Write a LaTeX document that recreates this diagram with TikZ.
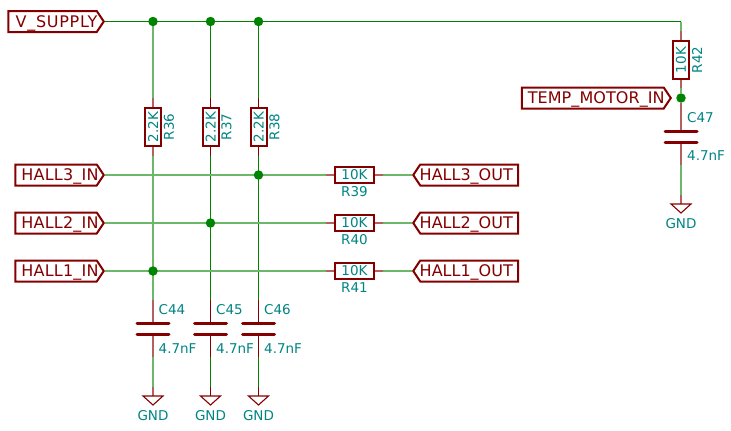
\documentclass[tikz,border=0pt]{standalone}
\usepackage{fontspec}
\setmainfont{DejaVu Sans}
\usetikzlibrary{shapes.symbols,backgrounds}
\definecolor{kred}{HTML}{840000}
\definecolor{kgreen}{HTML}{008400}
\definecolor{kteal}{HTML}{008484}
\newcommand{\lsp}[1]{\addfontfeature{LetterSpace=#1}}
\tikzset{
  x=1pt,y=-1pt,
  wire/.style={draw=kgreen,line width=1.05pt},
  lead/.style={draw=kred,line width=1.05pt},
  wirep/.style={draw=kgreen!58!white,line width=1.05pt},
  leadp/.style={draw=kred!62!white,line width=1.05pt},
  plate/.style={draw=kred,line width=3pt,line cap=round},
  gndsym/.style={draw=kred,line width=1.1pt,line join=miter},
  dotj/.style={circle,fill=kgreen,inner sep=0pt,minimum size=9.5pt},
  resbox/.style={draw=kred,line width=2pt,rectangle,inner sep=0pt,fill=white},
  vres/.style={resbox,minimum width=16pt,minimum height=38pt},
  hres/.style={resbox,minimum width=39pt,minimum height=16pt},
  sig/.style={draw=kred,line width=2pt,inner sep=0pt,signal,signal pointer angle=112,minimum height=21pt,text=kred,text height=11.7pt,text depth=0pt,font=\fontsize{16}{16}\selectfont},
  val/.style={text=kteal,font=\fontsize{13.5}{13.5}\selectfont,inner sep=0pt},
}
\begin{document}
\begin{tikzpicture}
\useasboundingbox (0,0) rectangle (731,431);
% junctions
\node[dotj] (j1) at (153,21.5) {};
\node[dotj] (j2) at (210.5,21.5) {};
\node[dotj] (j3) at (258.5,21.5) {};
\node[dotj] (jt) at (681,98) {};
\node[dotj] (h3) at (258.5,175) {};
\node[dotj] (h2) at (210.5,223) {};
\node[dotj] (h1) at (153,271) {};
% power rail
\node[sig,signal to=east,minimum width=95.5pt,anchor=east] (vs) at (105,21.5) {\makebox[0pt]{\hspace*{8pt}\lsp{4.5}V\_SUPPLY}};
\coordinate (rtop) at (681,21.5);
\coordinate (R42up) at (681,31);
\begin{scope}[on background layer]
  \draw[wire] (vs.east) -- (rtop);
  \draw[wirep] (rtop) -- (R42up);
\end{scope}
% vertical columns
\foreach \x/\rn/\cn/\jn/\ws/\ls in {153/R36/C44/j1/wirep/leadp,210.5/R37/C45/j2/wire/lead,258.5/R38/C46/j3/wire/lead}{
  \node[vres] (\rn) at (\x,127) {};
  \node[val,rotate=90] (\rn v) at (\rn) {2.2K};
  \node[val,rotate=90] (\rn t) at (\x+16,127) {\rn};
  \coordinate (\rn a) at (\x,98);
  \coordinate (\rn b) at (\x,156);
  \coordinate (\cn a) at (\x,300);
  \coordinate (\cn p) at (\x,323);
  \coordinate (\cn q) at (\x,334);
  \coordinate (\cn b) at (\x,357);
  \coordinate (\cn c) at (\x,387);
  \coordinate (\cn g) at (\x,396);
  \coordinate (\cn l) at (\x-16,323);
  \coordinate (\cn r) at (\x+16,323);
  \coordinate (\cn L) at (\x-16,334);
  \coordinate (\cn R) at (\x+16,334);
  \begin{scope}[on background layer]
    \draw[\ws] (\jn) -- (\rn a);
    \draw[\ls] (\rn a) -- (\rn.north);
    \draw[\ls] (\rn.south) -- (\rn b);
    \draw[\ws] (\rn b) -- (\cn a);
    \draw[\ls] (\cn a) -- (\cn p);
    \draw[\ls] (\cn q) -- (\cn b);
    \draw[\ws] (\cn b) -- (\cn c);
    \draw[\ls] (\cn c) -- (\cn g);
  \end{scope}
  \draw[plate] (\cn l) -- (\cn r);
  \draw[plate] (\cn L) -- (\cn R);
  \node[val,anchor=west] (\cn t) at (\x+5.5,310) {\cn};
  \node[val,anchor=west] (\cn v) at (\x+5.5,349) {4.7nF};
  \draw[gndsym] (\x-10,396) -- (\x+10,396) -- (\x,405) -- cycle;
  \node[val] (\cn n) at (\x,416) {GND};
}
% hall lines
\foreach \n/\y/\rn in {3/175/R39,2/223/R40,1/271/R41}{
  \node[sig,signal to=east,minimum width=88.5pt,anchor=east] (in\n) at (105,\y) {\makebox[0pt]{\hspace*{8pt}\lsp{1.2}HALL\n\_IN}};
  \node[sig,signal to=west,minimum width=105pt,anchor=west] (out\n) at (412,\y) {\makebox[0pt]{HALL\n\_OUT\hspace*{6pt}}};
  \node[hres] (\rn) at (354.5,\y) {};
  \node[val] (\rn v) at (\rn) {10K};
  \node[val] (\rn t) at (354.5,\y+16.5) {\rn};
  \coordinate (\rn a) at (326,\y);
  \coordinate (\rn b) at (383,\y);
  \begin{scope}[on background layer]
    \draw[wirep] (in\n.east) -- (\rn a);
    \draw[leadp] (\rn a) -- (\rn.west);
    \draw[leadp] (\rn.east) -- (\rn b);
    \draw[wirep] (\rn b) -- (out\n.west);
  \end{scope}
}
% temperature branch
\node[vres] (R42) at (681,60) {};
\node[val,rotate=90] (R42v) at (R42) {10K};
\node[val,rotate=90] (R42t) at (697,60) {R42};
\node[sig,signal to=east,minimum width=149pt,anchor=east] (tm) at (672,98) {\makebox[0pt]{\hspace*{7pt}\lsp{0.5}TEMP\_MOTOR\_IN}};
\coordinate (R42dn) at (681,88);
\coordinate (C47p) at (681,131);
\coordinate (C47q) at (681,142);
\coordinate (C47b) at (681,165);
\coordinate (C47c) at (681,195);
\coordinate (C47g) at (681,204);
\begin{scope}[on background layer]
  \draw[leadp] (R42up) -- (R42.north);
  \draw[leadp] (R42.south) -- (R42dn);
  \draw[wirep] (R42dn) -- (jt);
  \draw[leadp] (jt) -- (C47p);
  \draw[leadp] (C47q) -- (C47b);
  \draw[wirep] (C47b) -- (C47c);
  \draw[leadp] (C47c) -- (C47g);
\end{scope}
\draw[plate] (665,131) -- (697,131);
\draw[plate] (665,142) -- (697,142);
\node[val,anchor=west] (C47t) at (687,118) {C47};
\node[val,anchor=west] (C47v) at (687,156) {4.7nF};
\draw[gndsym] (671,204) -- (691,204) -- (681,213) -- cycle;
\node[val] (C47n) at (681,224) {GND};
\end{tikzpicture}
\end{document}
